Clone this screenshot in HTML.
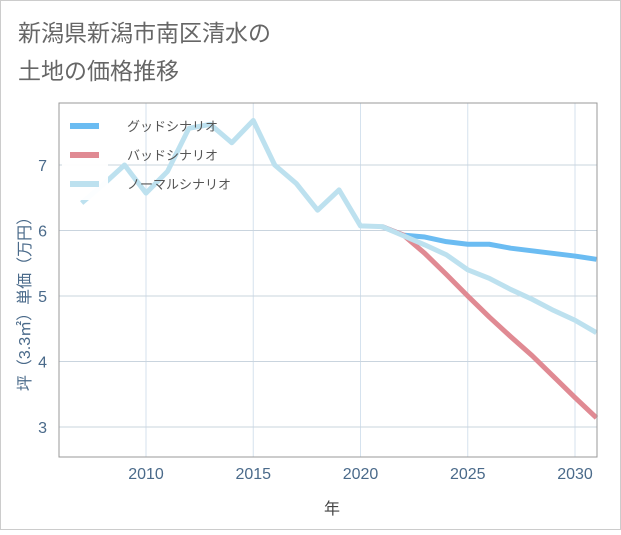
<!DOCTYPE html>
<html><head><meta charset="utf-8"><style>
body{margin:0;background:#fff}
svg text{font-family:"Liberation Sans","Noto Sans CJK JP",sans-serif}
</style></head><body>
<svg width="621" height="530" viewBox="0 0 621 530">
<rect x="0.5" y="0.5" width="620" height="529" fill="#fff" stroke="#ccc"/>
<text x="18" y="41" font-size="23" fill="#666">新潟県新潟市南区清水の</text>
<text x="18" y="79" font-size="23" fill="#666">土地の価格推移</text>
<g id="grid"></g>
<g id="series"></g>
<g id="axes"></g>
<g id="legend"></g>
<text x="332" y="514" font-size="16" fill="#444" text-anchor="middle">年</text>
<text transform="translate(30,300) rotate(-90)" font-size="16" fill="#4a6a8a" text-anchor="middle">坪（3.3㎡）単価（万円）</text>
</svg>
<script>
const years=[2007,2008,2009,2010,2011,2012,2013,2014,2015,2016,2017,2018,2019,2020,2021,2022,2023,2024,2025,2026,2027,2028,2029,2030,2031];
const normal=[6.42,6.7,7.0,6.57,6.9,7.56,7.62,7.34,7.68,7.0,6.72,6.31,6.62,6.07,6.06,5.92,5.78,5.63,5.4,5.27,5.1,4.95,4.78,4.63,4.44];
const fYears=[2021,2022,2023,2024,2025,2026,2027,2028,2029,2030,2031];
const good=[6.06,5.93,5.9,5.83,5.79,5.79,5.73,5.69,5.65,5.61,5.56];
const bad=[6.06,5.93,5.65,5.33,5.0,4.68,4.38,4.09,3.77,3.45,3.14];
const xTicks=[2010,2015,2020,2025,2030];
const yTicks=[3,4,5,6,7];
const L=59,R=597,T=103,B=457;
const X=y=>146+(y-2010)*21.45;
const Y=v=>165+(7-v)*65.5;
const NS='http://www.w3.org/2000/svg';
function mk(tag,parent,attrs){const e=document.createElementNS(NS,tag);for(const k in attrs)e.setAttribute(k,attrs[k]);parent.appendChild(e);return e;}
const grid=document.getElementById('grid'),axes=document.getElementById('axes'),ser=document.getElementById('series'),leg=document.getElementById('legend');
for(const t of xTicks){const l=mk('line',grid,{x1:X(t),x2:X(t),y1:T,y2:B,stroke:'#d5e2ee','stroke-width':1});


const tx=mk('text',axes,{x:X(t),y:B+22,'font-size':16,fill:'#4a6a8a','text-anchor':'middle'});tx.textContent=t;

}
for(const t of yTicks){const l=mk('line',grid,{x1:L,x2:R,y1:Y(t),y2:Y(t),stroke:'#c9d4de','stroke-width':1});


const tx=mk('text',axes,{x:L-12,y:Y(t)+6,'font-size':16,fill:'#4a6a8a','text-anchor':'end'});tx.textContent=t;

}
const fr=mk('rect',axes,{x:L,y:T,width:R-L,height:B-T,fill:'none',stroke:'#999','stroke-width':1});


function line(xs,vs,color,name){const p=mk('polyline',ser,{points:xs.map((y,i)=>X(y)+','+Y(vs[i])).join(' '),fill:'none',stroke:color,'stroke-width':5,'stroke-linejoin':'round'});

}
line(fYears,good,'#6bbcf2','good-scenario-line');
line(fYears,bad,'#e08a93','bad-scenario-line');
line(years,normal,'#bde1ef','normal-scenario-line');
const bg=mk('rect',leg,{x:62,y:110,width:46,height:90,fill:'#fff','fill-opacity':0.95});


const items=[['グッドシナリオ','#6bbcf2'],['バッドシナリオ','#e08a93'],['ノーマルシナリオ','#bde1ef']];
items.forEach((it,i)=>{const y=126+i*29;
const l=mk('line',leg,{x1:70,x2:99,y1:y,y2:y,stroke:it[1],'stroke-width':6});


const t=mk('text',leg,{x:127,y:y+5,'font-size':13,fill:'#555'});t.textContent=it[0];

});
</script>
</body></html>
